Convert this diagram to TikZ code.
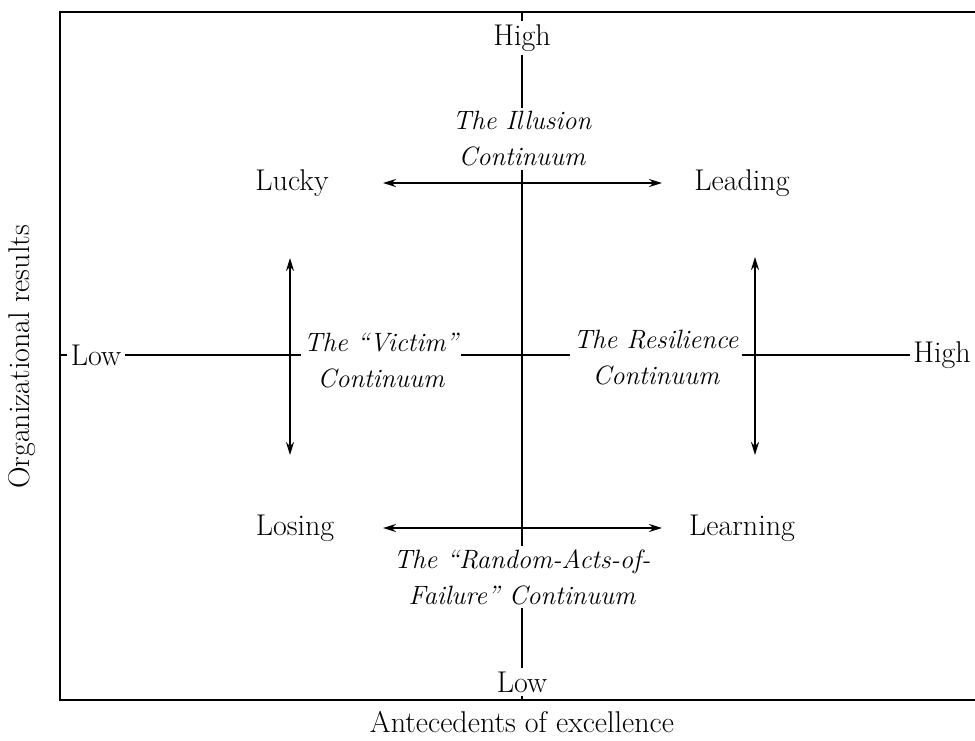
\documentclass[tikz,border=0pt]{standalone}
\usetikzlibrary{arrows.meta}
\begin{document}
\begin{tikzpicture}[x=1pt,y=-1pt,
  lbl/.style={font=\fontsize{30}{36}\selectfont, inner sep=3pt, align=center},
  itl/.style={font=\fontsize{26.5}{36}\selectfont\itshape, inner sep=3pt, align=center},
  thinln/.style={line width=1.3pt},
  dblarrow/.style={line width=2pt, {Stealth[length=13pt,width=8pt]}-{Stealth[length=13pt,width=8pt]}}]
\useasboundingbox (0,0) rectangle (975,740);
% frame
\draw[thinln] (975,12) -- (60,12) -- (60,700) -- (975,700);
% labels
\node[lbl] (hightop) at (522,38) {High};
\node[itl] (illusion) at (522,139) {The Illusion\\Continuum};
\node[itl] (raf) at (522,577) {The ``Random-Acts-of-\\Failure'' Continuum};
\node[lbl] (lowbot) at (522,682) {Low};
\node[lbl, inner sep=4pt] (lowleft) at (96,355) {Low};
\node[lbl] (highright) at (942,355) {High};
\node[itl] (victim) at (381,361) {The ``Victim''\\Continuum};
\node[itl] (resil) at (656,358) {The Resilience\\Continuum};
\node[lbl] (lucky) at (292,183) {Lucky};
\node[lbl] (leading) at (742,183) {Leading};
\node[lbl] (losing) at (295,528) {Losing};
\node[lbl] (learning) at (742,528) {Learning};
\node[lbl, rotate=90] (ylab) at (22,357) {Organizational results};
\node[lbl] (xlab) at (522,722) {Antecedents of excellence};
% coordinates
\coordinate (ttop) at (522,12);
\coordinate (tbot) at (522,700);
\coordinate (lleft) at (60,355);
\coordinate (ia) at (383,183);
\coordinate (ib) at (662,183);
\coordinate (ra) at (383,528);
\coordinate (rb) at (662,528);
\coordinate (va) at (290,258);
\coordinate (vb) at (290,455);
\coordinate (wa) at (755,257);
\coordinate (wb) at (755,455);
% vertical axis
\draw[thinln] (ttop) -- (hightop.north);
\draw[thinln] (hightop.south) -- (illusion.north);
\draw[thinln] (illusion.south) -- (raf.north);
\draw[thinln] (raf.south) -- (lowbot.north);
\draw[thinln] (lowbot.south) -- (tbot);
% horizontal axis
\draw[thinln] (lleft) -- (lowleft.west);
\draw[thinln] (lowleft.east) -- (lowleft.east -| victim.west);
\draw[thinln] (lowleft.east -| victim.east) -- (lowleft.east -| resil.west);
\draw[thinln] (lowleft.east -| resil.east) -- (highright.west);
% arrows
\draw[dblarrow] (ia) -- (ib);
\draw[dblarrow] (ra) -- (rb);
\draw[dblarrow] (va) -- (vb);
\draw[dblarrow, line width=2.6pt] (wa) -- (wb);
\end{tikzpicture}
\end{document}
